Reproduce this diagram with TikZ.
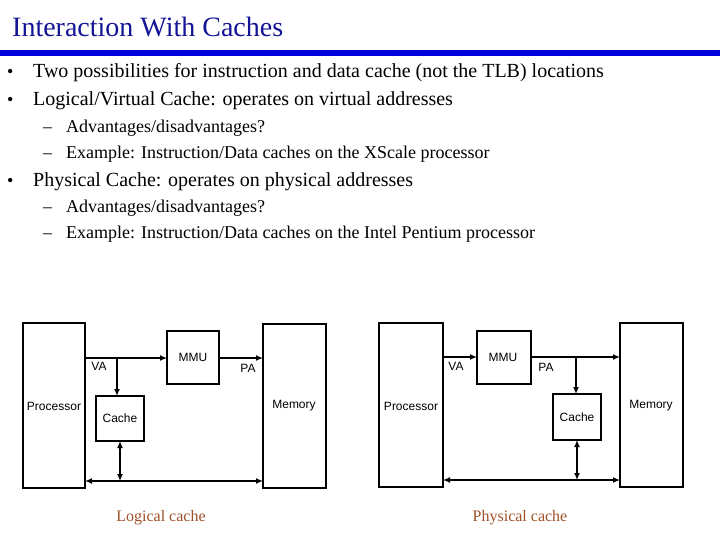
\documentclass[tikz,border=0pt]{standalone}
\usepackage{fontspec}
\setmainfont{Liberation Serif}
\newfontfamily\arialf{Liberation Sans}
\usetikzlibrary{arrows.meta}
\definecolor{titleblue}{RGB}{20,20,150}
\definecolor{barblue}{RGB}{0,0,220}
\definecolor{capbrown}{RGB}{160,80,40}
\tikzset{
  box/.style={draw, line width=1.6pt, inner sep=0pt},
  lbl/.style={font=\arialf\fontsize{12}{13}\selectfont, inner sep=0pt},
  conn/.style={line width=1.4pt, -{Latex[length=7pt,width=6pt]}},
  dconn/.style={line width=1.4pt, {Latex[length=7pt,width=6pt]}-{Latex[length=7pt,width=6pt]}},
  bul/.style={anchor=base west, inner sep=0pt, font=\fontsize{20}{22}\selectfont},
  bmark/.style={anchor=base west, inner sep=0pt, font=\fontsize{18}{20}\selectfont},
  subb/.style={anchor=base west, inner sep=0pt, font=\fontsize{18}{20}\selectfont},
  capt/.style={text=capbrown, font=\fontsize{16}{17}\selectfont, inner sep=0pt}
}
\begin{document}
\begin{tikzpicture}[x=1pt,y=-1pt]
\useasboundingbox (0,0) rectangle (720,540);
% title
\node[anchor=base west, inner sep=0pt, text=titleblue, font=\fontsize{28}{30}\selectfont] (title) at (12,37) {Interaction With Caches};
\fill[barblue] (0,50.5) rectangle (720,56.5);
% bullets
\node[bmark] (b1m) at (7,78) {•};
\node[bul] (b1) at (33,78) {Two possibilities for instruction and data cache (not the TLB) locations};
\node[bmark] (b2m) at (7,106) {•};
\node[bul] (b2) at (33,106) {Logical/Virtual Cache: operates on virtual addresses};
\node[subb] (s1m) at (43,133) {–};
\node[subb] (s1) at (66,133) {Advantages/disadvantages?};
\node[subb] (s2m) at (43,159) {–};
\node[subb] (s2) at (66,159) {Example: Instruction/Data caches on the XScale processor};
\node[bmark] (b3m) at (7,187) {•};
\node[bul] (b3) at (33,187) {Physical Cache: operates on physical addresses};
\node[subb] (s3m) at (43,213) {–};
\node[subb] (s3) at (66,213) {Advantages/disadvantages?};
\node[subb] (s4m) at (43,239) {–};
\node[subb] (s4) at (66,239) {Example: Instruction/Data caches on the Intel Pentium processor};

% ---- Logical cache diagram
\draw[box] (23,323) rectangle (85,488);
\node[lbl] (lproc) at (54,406) {Processor};
\draw[box] (167,331) rectangle (219,384);
\node[lbl] (lmmu) at (193,357) {MMU};
\draw[box] (263,324) rectangle (326,488);
\node[lbl] (lmem) at (294,406) {Memory};
\draw[box] (96,396) rectangle (144,441);
\node[lbl] (lcache) at (120,418) {Cache};
\coordinate (lva0) at (85,358);
\coordinate (lmmuL) at (167,358);
\coordinate (lbr) at (117,358);
\coordinate (lcacheT) at (117,396);
\coordinate (lmmuR) at (219,358);
\coordinate (lmemL) at (263,358);
\coordinate (lcacheB) at (120,441);
\coordinate (lbus) at (120,481);
\coordinate (lbusL) at (85,481);
\coordinate (lbusR) at (263,481);
\draw[conn] (lva0) -- (lmmuL);
\draw[conn] (lbr) -- (lcacheT);
\draw[conn] (lmmuR) -- (lmemL);
\draw[dconn] (lcacheB) -- (lbus);
\draw[dconn] (lbusL) -- (lbusR);
\node[lbl] (lva) at (99,366) {VA};
\node[lbl] (lpa) at (248,368) {PA};
\node[capt] (lcap) at (161,518) {Logical cache};

% ---- Physical cache diagram
\draw[box] (379,323) rectangle (443,487);
\node[lbl] (pproc) at (411,406) {Processor};
\draw[box] (477,331) rectangle (531,384);
\node[lbl] (pmmu) at (503,357) {MMU};
\draw[box] (620,323) rectangle (683,487);
\node[lbl] (pmem) at (651,406) {Memory};
\draw[box] (553,394) rectangle (601,440);
\node[lbl] (pcache) at (577,417) {Cache};
\coordinate (pva0) at (443,357);
\coordinate (pmmuL) at (477,357);
\coordinate (pmmuR) at (531,357);
\coordinate (pmemL) at (620,357);
\coordinate (pbr) at (576,357);
\coordinate (pcacheT) at (576,394);
\coordinate (pcacheB) at (577,440);
\coordinate (pbus) at (577,480);
\coordinate (pbusL) at (443,480);
\coordinate (pbusR) at (620,480);
\draw[conn] (pva0) -- (pmmuL);
\draw[conn] (pmmuR) -- (pmemL);
\draw[conn] (pbr) -- (pcacheT);
\draw[dconn] (pcacheB) -- (pbus);
\draw[dconn] (pbusL) -- (pbusR);
\node[lbl] (pva) at (456,366) {VA};
\node[lbl] (ppa) at (546,367) {PA};
\node[capt] (pcap) at (520,518) {Physical cache};
\end{tikzpicture}
\end{document}
